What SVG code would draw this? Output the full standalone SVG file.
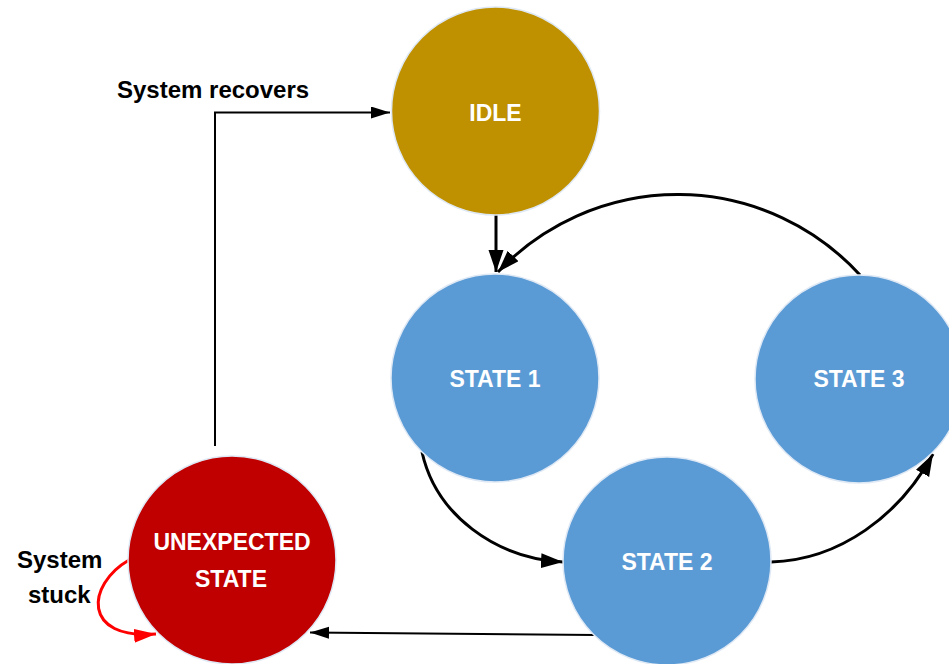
<svg xmlns="http://www.w3.org/2000/svg" width="949" height="664" viewBox="0 0 949 664">
<defs>
<marker id="ah" markerUnits="userSpaceOnUse" markerWidth="24" markerHeight="16" refX="22" refY="7.5" orient="auto">
<path d="M0,0 L22,7.5 L0,15 z" fill="#000"/>
</marker>
<marker id="ahs" markerUnits="userSpaceOnUse" markerWidth="20" markerHeight="14" refX="19" refY="6" orient="auto">
<path d="M0,0 L19,6 L0,12 z" fill="#000"/>
</marker>
<marker id="ahr" markerUnits="userSpaceOnUse" markerWidth="24" markerHeight="16" refX="22" refY="7" orient="auto">
<path d="M0,0 L22,7 L0,14 z" fill="#FF0000"/>
</marker>
</defs>
<style>
.node{stroke:#dfe9f5;stroke-width:1.5}
.lbl{font-family:"Liberation Sans",Arial,sans-serif;font-weight:bold;font-size:23px;fill:#fff;text-anchor:middle}
.ann{font-family:"Liberation Sans",Arial,sans-serif;font-weight:bold;font-size:24px;fill:#000}
.c{fill:none;stroke:#000;stroke-width:3}
.t{fill:none;stroke:#000;stroke-width:2}
</style>
<rect width="949" height="664" fill="#fff"/>
<g id="connectors">
<path class="t" d="M215,446 L215,112.5 L390,112.5" marker-end="url(#ahs)"/>
<path class="c" d="M496,214 L496,272" marker-end="url(#ah)"/>
<path class="c" d="M860,275 A247,247 0 0 0 498,272" marker-end="url(#ah)"/>
<path class="c" d="M422,452 C436,515 495,558 563,562" marker-end="url(#ah)"/>
<path class="c" d="M771,562 C840,560 900,515 933,454" marker-end="url(#ah)"/>
<path class="t" d="M596,635 L310,632.5" marker-end="url(#ahs)"/>
<path d="M129,560 C86,585 82,640 156,634" fill="none" stroke="#FF0000" stroke-width="3" marker-end="url(#ahr)"/>
</g>
<g id="idle">
<circle class="node" cx="495.5" cy="111" r="104" fill="#BF9000"/>
<text class="lbl" x="495.5" y="121">IDLE</text>
</g>
<g id="state1">
<circle class="node" cx="495" cy="378" r="104" fill="#5B9BD5"/>
<text class="lbl" x="495" y="387">STATE 1</text>
</g>
<g id="state2">
<circle class="node" cx="667" cy="561" r="104" fill="#5B9BD5"/>
<text class="lbl" x="667" y="570">STATE 2</text>
</g>
<g id="state3">
<circle class="node" cx="859" cy="379" r="104" fill="#5B9BD5"/>
<text class="lbl" x="859" y="387">STATE 3</text>
</g>
<g id="unexpected">
<circle class="node" cx="232" cy="560" r="104" fill="#C00000"/>
<text class="lbl" x="232" y="550">UNEXPECTED</text>
<text class="lbl" x="231" y="587">STATE</text>
</g>
<g id="labels">
<text class="ann" x="117" y="98">System recovers</text>
<text class="ann" x="17" y="568">System</text>
<text class="ann" x="28" y="603">stuck</text>
</g>
</svg>
